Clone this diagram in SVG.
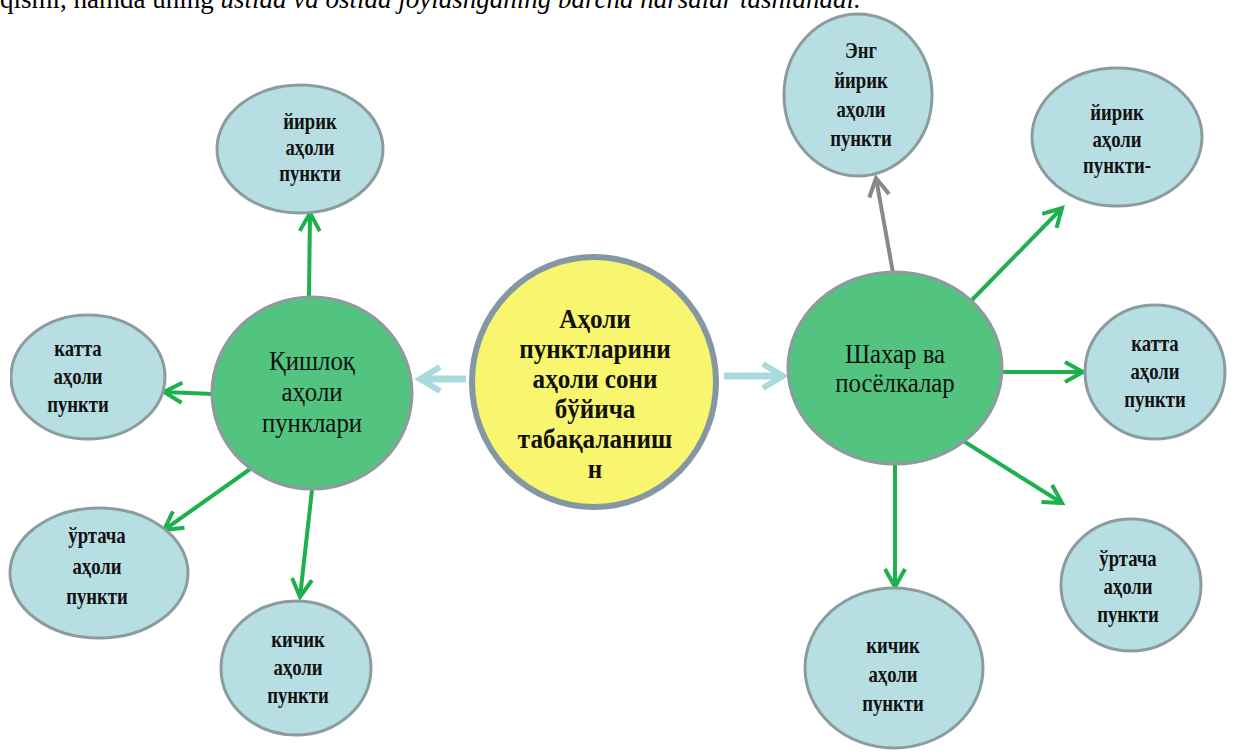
<svg xmlns="http://www.w3.org/2000/svg" width="1237" height="756" viewBox="0 0 1237 756">
<style>
.top{font-family:"Liberation Serif",serif;font-size:27px;fill:#000}
.lb{font-family:"Liberation Serif",serif;font-weight:bold;font-size:24px;fill:#111;text-anchor:middle}
.yb{font-family:"Liberation Serif",serif;font-weight:bold;font-size:27px;fill:#111;text-anchor:middle}
.gn{font-family:"Liberation Serif",serif;font-size:27px;fill:#111;text-anchor:middle}
.small{fill:#b7dfe3;stroke:#8c9c9e;stroke-width:3}
.green{fill:#52c47f;stroke:#8e9a9e;stroke-width:3}
.yellow{fill:#f8f56e;stroke:#8597a2;stroke-width:6}
.gc{stroke:#1db14e;stroke-width:4;fill:none}
.gy{stroke:#888;stroke-width:4;fill:none}
.bc{stroke:#a9dadd;stroke-width:7;fill:none}
</style>
<defs>
<marker id="ag" markerUnits="userSpaceOnUse" markerWidth="26" markerHeight="26" viewBox="0 0 26 26" refX="22" refY="13" orient="auto"><path d="M4,3 L22,13 L4,23" fill="none" stroke="#1db14e" stroke-width="4"/></marker>
<marker id="ay" markerUnits="userSpaceOnUse" markerWidth="26" markerHeight="26" viewBox="0 0 26 26" refX="22" refY="13" orient="auto"><path d="M4,3 L22,13 L4,23" fill="none" stroke="#888" stroke-width="4"/></marker>
<marker id="ab" markerUnits="userSpaceOnUse" markerWidth="30" markerHeight="30" viewBox="0 0 30 30" refX="25" refY="15" orient="auto"><path d="M5,3 L25,15 L5,27" fill="none" stroke="#a9dadd" stroke-width="6"/></marker>
<clipPath id="clipL"><rect x="10" y="0" width="300" height="756"/></clipPath>
</defs>
<rect width="1237" height="756" fill="#fff"/>
<text class="top" x="0" y="8">qismi, hamda uning <tspan font-style="italic">ustida va ostida joylashganing barcha narsalar tashlanadi.</tspan></text>

<g id="connectors">
<line class="bc" x1="466" y1="379" x2="420" y2="379" marker-end="url(#ab)"/>
<line class="bc" x1="724" y1="376" x2="783" y2="376" marker-end="url(#ab)"/>
<line class="gc" x1="309" y1="296" x2="310" y2="213" marker-end="url(#ag)"/>
<line class="gc" x1="213" y1="394" x2="164" y2="392" marker-end="url(#ag)"/>
<line class="gc" x1="253" y1="467" x2="164" y2="530" marker-end="url(#ag)"/>
<line class="gc" x1="312" y1="490" x2="300" y2="597" marker-end="url(#ag)"/>
<line class="gy" x1="893" y1="273" x2="876" y2="178" marker-end="url(#ay)"/>
<line class="gc" x1="970" y1="302" x2="1062" y2="208" marker-end="url(#ag)"/>
<line class="gc" x1="1002" y1="372" x2="1083" y2="372" marker-end="url(#ag)"/>
<line class="gc" x1="957" y1="437" x2="1062" y2="503" marker-end="url(#ag)"/>
<line class="gc" x1="895" y1="463" x2="895" y2="587" marker-end="url(#ag)"/>
</g>

<g id="center">
<ellipse class="yellow" cx="594" cy="382" rx="122" ry="125"/>
<g transform="translate(595,0) scale(0.93,1)">
<text class="yb" x="0" y="328">Аҳоли</text>
<text class="yb" x="0" y="358">пунктларини</text>
<text class="yb" x="0" y="388">аҳоли сони</text>
<text class="yb" x="0" y="418">бўйича</text>
<text class="yb" x="0" y="448">табақаланиш</text>
<text class="yb" x="0" y="478">н</text>
</g>
</g>

<g id="rural">
<ellipse class="green" cx="312" cy="393" rx="100" ry="96"/>
<g transform="translate(312,0) scale(0.92,1)">
<text class="gn" x="0" y="370">Қишлоқ</text>
<text class="gn" x="0" y="401">аҳоли</text>
<text class="gn" x="0" y="432">пунклари</text>
</g>
</g>

<g id="urban">
<ellipse class="green" cx="895" cy="368" rx="107" ry="96"/>
<g transform="translate(895,0) scale(0.92,1)">
<text class="gn" x="0" y="363">Шахар ва</text>
<text class="gn" x="0" y="392">посёлкалар</text>
</g>
</g>

<g id="l-large">
<ellipse class="small" cx="300" cy="149" rx="83" ry="64"/>
<g transform="translate(310,0) scale(0.78,1)">
<text class="lb" x="0" y="129">йирик</text>
<text class="lb" x="0" y="155">аҳоли</text>
<text class="lb" x="0" y="181">пункти</text>
</g>
</g>

<g id="l-big">
<ellipse class="small" cx="88" cy="377" rx="77" ry="62" clip-path="url(#clipL)"/>
<g transform="translate(78,0) scale(0.78,1)">
<text class="lb" x="0" y="356">катта</text>
<text class="lb" x="0" y="384">аҳоли</text>
<text class="lb" x="0" y="412">пункти</text>
</g>
</g>

<g id="l-medium">
<ellipse class="small" cx="99" cy="573" rx="89" ry="65"/>
<g transform="translate(97,0) scale(0.78,1)">
<text class="lb" x="0" y="543">ўртача</text>
<text class="lb" x="0" y="574">аҳоли</text>
<text class="lb" x="0" y="604">пункти</text>
</g>
</g>

<g id="l-small">
<ellipse class="small" cx="296" cy="668" rx="75" ry="67"/>
<g transform="translate(298,0) scale(0.78,1)">
<text class="lb" x="0" y="647">кичик</text>
<text class="lb" x="0" y="675">аҳоли</text>
<text class="lb" x="0" y="703">пункти</text>
</g>
</g>

<g id="r-largest">
<ellipse class="small" cx="858" cy="95" rx="74" ry="81"/>
<g transform="translate(861,0) scale(0.78,1)">
<text class="lb" x="0" y="58">Энг</text>
<text class="lb" x="0" y="88">йирик</text>
<text class="lb" x="0" y="117">аҳоли</text>
<text class="lb" x="0" y="146">пункти</text>
</g>
</g>

<g id="r-large">
<ellipse class="small" cx="1117" cy="137" rx="85" ry="69"/>
<g transform="translate(1117,0) scale(0.78,1)">
<text class="lb" x="0" y="120">йирик</text>
<text class="lb" x="0" y="147">аҳоли</text>
<text class="lb" x="0" y="173">пункти-</text>
</g>
</g>

<g id="r-big">
<ellipse class="small" cx="1155" cy="372" rx="70" ry="67"/>
<g transform="translate(1155,0) scale(0.78,1)">
<text class="lb" x="0" y="351">катта</text>
<text class="lb" x="0" y="379">аҳоли</text>
<text class="lb" x="0" y="407">пункти</text>
</g>
</g>

<g id="r-medium">
<ellipse class="small" cx="1131" cy="585" rx="70" ry="66"/>
<g transform="translate(1128,0) scale(0.78,1)">
<text class="lb" x="0" y="566">ўртача</text>
<text class="lb" x="0" y="594">аҳоли</text>
<text class="lb" x="0" y="622">пункти</text>
</g>
</g>

<g id="r-small">
<ellipse class="small" cx="894" cy="668" rx="89" ry="80"/>
<g transform="translate(893,0) scale(0.78,1)">
<text class="lb" x="0" y="653">кичик</text>
<text class="lb" x="0" y="682">аҳоли</text>
<text class="lb" x="0" y="711">пункти</text>
</g>
</g>
</svg>
